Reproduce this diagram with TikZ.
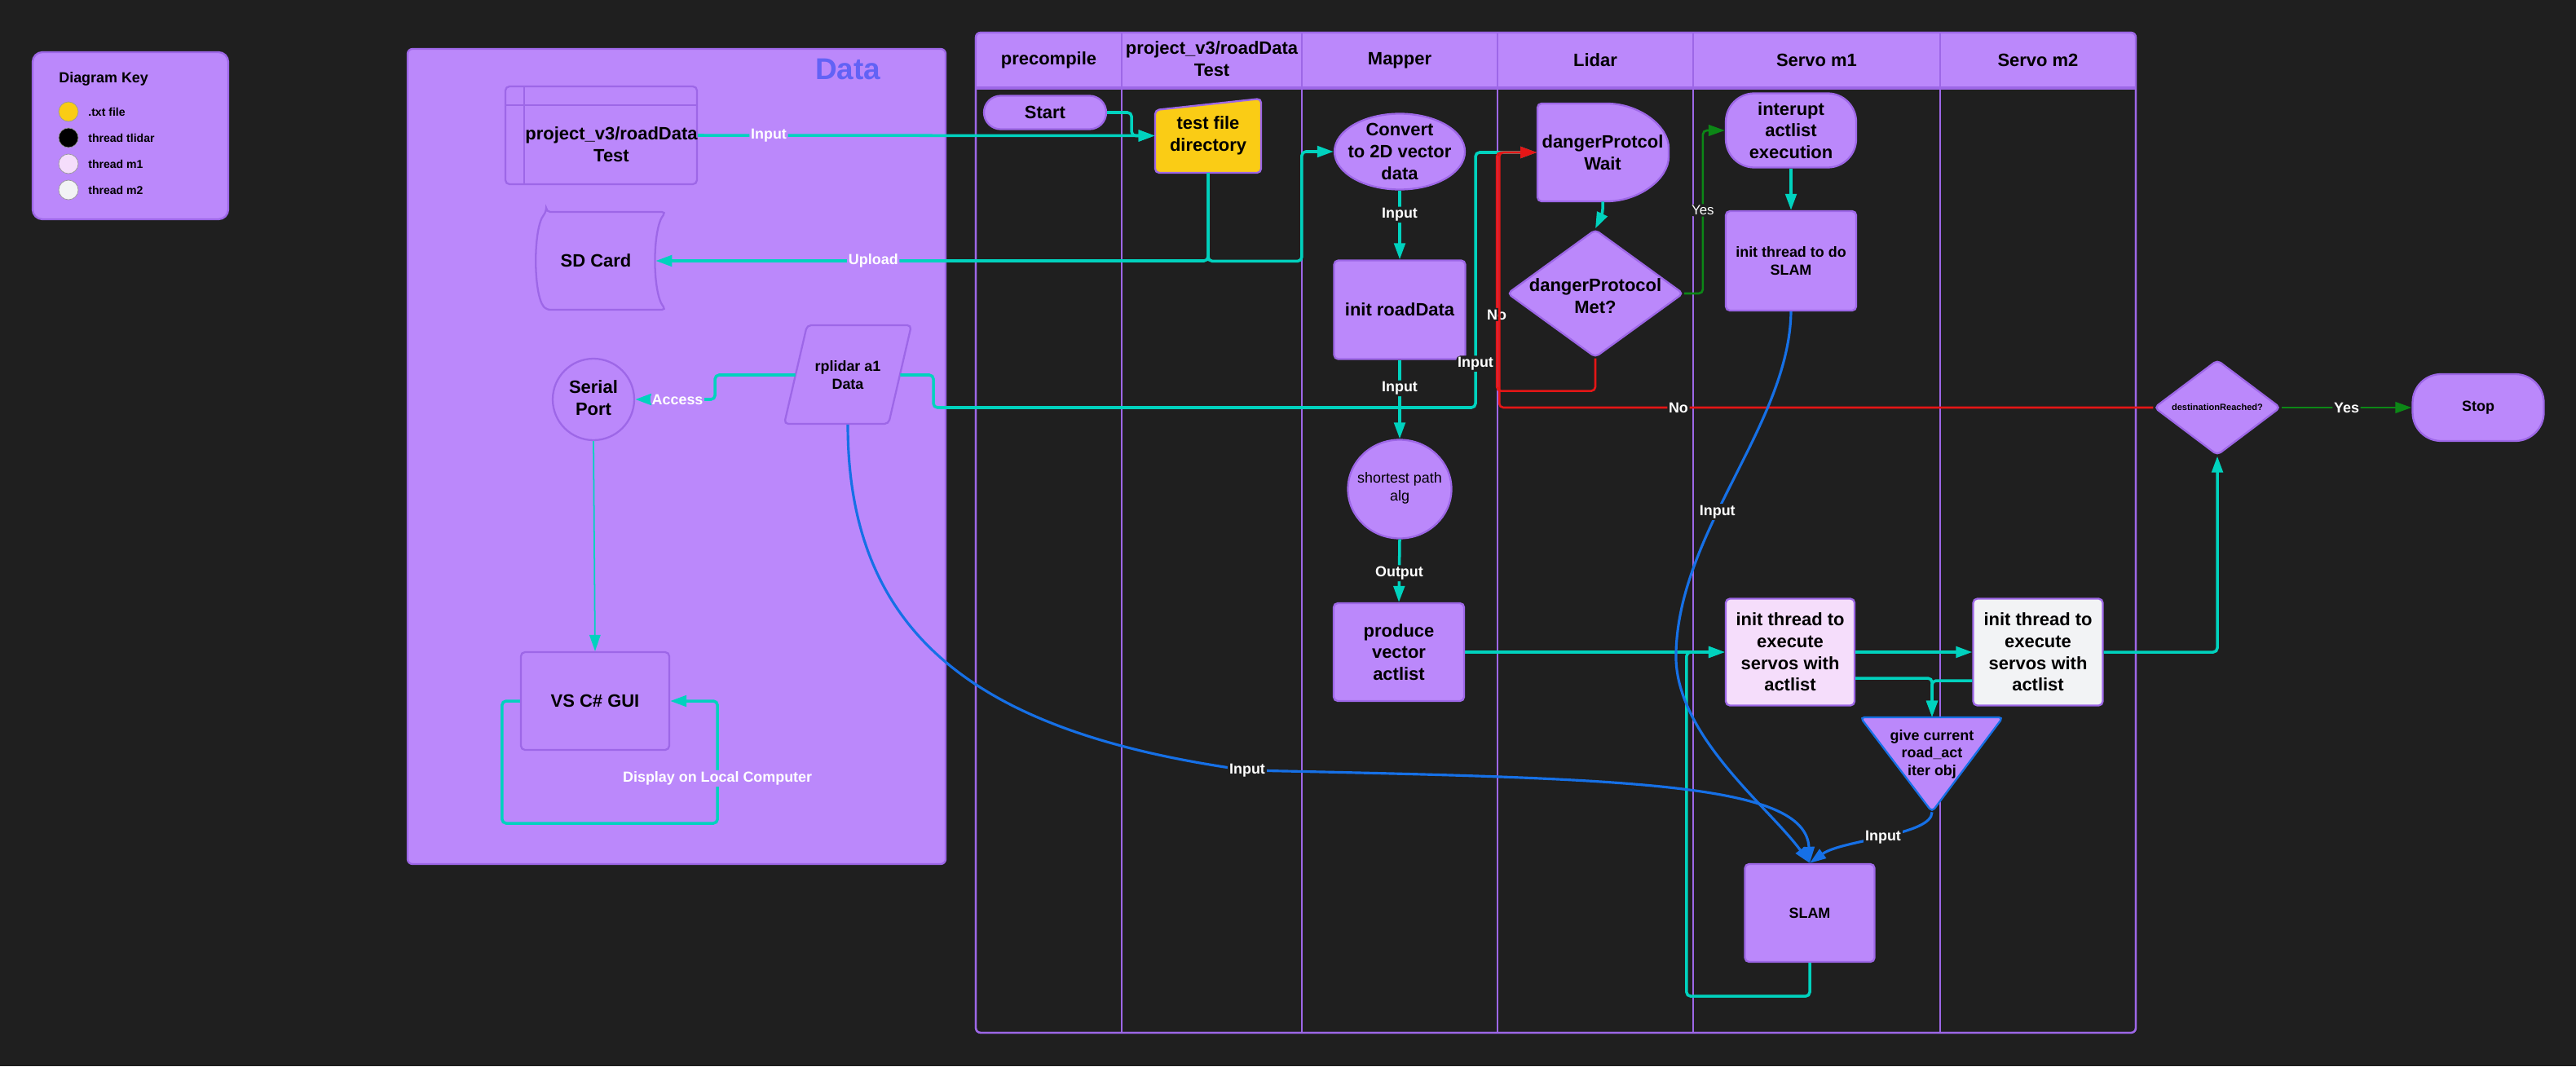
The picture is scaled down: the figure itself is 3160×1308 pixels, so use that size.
\documentclass[tikz,border=0pt]{standalone}
\usepackage{fontspec}
\setmainfont{Liberation Sans}
\usetikzlibrary{positioning, arrows.meta, shapes.geometric, calc}

\definecolor{bgcol}{RGB}{31,31,31}
\definecolor{pfill}{RGB}{187,136,251}
\definecolor{pline}{RGB}{157,103,231}
\definecolor{flowc}{RGB}{0,210,190}
\definecolor{noc}{RGB}{228,22,22}
\definecolor{yesc}{RGB}{12,135,22}
\definecolor{inc}{RGB}{22,112,230}
\definecolor{txtfile}{RGB}{250,204,21}
\definecolor{mone}{RGB}{245,221,251}
\definecolor{mtwo}{RGB}{242,243,245}
\definecolor{datac}{RGB}{98,98,245}

\begin{document}
\begin{tikzpicture}[
    x=0.02cm, y=-0.02cm,
    >={Triangle[length=0.4cm, width=0.27cm]},
    block/.style={rectangle, draw=pline, fill=pfill, line width=1.3pt, rounded corners=0.1cm, inner sep=0pt, align=center, font=\bfseries\fontsize{12.5}{15.2}\selectfont},
    outline/.style={draw=pline, fill=pfill, line width=1.3pt, rounded corners=0.1cm},
    oval/.style={ellipse, draw=pline, fill=pfill, line width=1.3pt, inner sep=0pt},
    decision/.style={diamond, draw=pline, fill=pfill, line width=1.3pt, inner sep=0pt, rounded corners=0.1cm},
    bigtext/.style={inner sep=0pt, align=center, font=\bfseries\fontsize{12.5}{15.2}\selectfont},
    smalltext/.style={inner sep=0pt, align=center, font=\bfseries\fontsize{10.2}{12.2}\selectfont},
    lbl/.style={fill=bgcol, text=white, inner sep=1pt, font=\bfseries\fontsize{10.2}{12}\selectfont},
    flow/.style={draw=flowc, line width=2pt, rounded corners=0.1cm, ->},
    nopath/.style={draw=noc, line width=1.5pt, rounded corners=0.1cm, ->},
    yespath/.style={draw=yesc, line width=1.5pt, rounded corners=0.1cm, ->},
    inpath/.style={draw=inc, line width=1.8pt, ->},
    keydot/.style={circle, draw=black!40, line width=0.4pt, minimum size=0.48cm, inner sep=0pt},
    keylbl/.style={anchor=west, inner sep=0pt, font=\bfseries\fontsize{8}{9.6}\selectfont}
]
\fill[bgcol] (0,0) rectangle (3160,1308);
\useasboundingbox (0,0) rectangle (3160,1308);

% Key
\draw[outline, rounded corners=0.24cm] (40,64) rectangle (280,269);
\node[anchor=west, inner sep=0pt, font=\bfseries\fontsize{10.2}{12}\selectfont] (keyTitle) at (72,97) {Diagram Key};
\node[keydot, fill=txtfile] (keyTxt) at (84,137) {};
\node[keylbl] (keyTxtLbl) at (108,137) {.txt file};
\node[keydot, fill=black] (keyLidar) at (84,169) {};
\node[keylbl] (keyLidarLbl) at (108,169) {thread tlidar};
\node[keydot, fill=mone] (keyMone) at (84,201) {};
\node[keylbl] (keyMoneLbl) at (108,201) {thread m1};
\node[keydot, fill=mtwo] (keyMtwo) at (84,233) {};
\node[keylbl] (keyMtwoLbl) at (108,233) {thread m2};

% Data area
\draw[outline, rounded corners=0.12cm] (500,60) rectangle (1160,1060);
\node[inner sep=0pt, text=datac, font=\bfseries\fontsize{21}{25}\selectfont] (dataTitle) at (1040,85) {Data};
\node[block, minimum width=4.7cm, minimum height=2.4cm] (roadFile) at (737.5,166) {};
\draw[pline, line width=1.3pt] (620,129) -- (855,129) (643,106) -- (643,226);
\node[bigtext] (roadFileText) at (750,177) {project\_v3/roadData\\Test};
\draw[outline] (670,260) -- (817,260) .. controls (800,280) and (800,360) .. (817,380) -- (670,380) .. controls (654,360) and (654,280) .. (670,260) -- cycle;
\node[bigtext, minimum width=2.92cm, minimum height=2.4cm] (sdCard) at (731,320) {SD Card};
\node[oval, minimum width=2cm, minimum height=2cm] (serialPort) at (728,490) {};
\node[bigtext] (serialText) at (728,488) {Serial\\Port};
\draw[outline] (990,399) -- (1118,399) -- (1090,520) -- (962,520) -- cycle;
\node[smalltext, minimum width=2.56cm, minimum height=2.42cm] (rplidar) at (1040,460) {rplidar a1\\Data};
\node[block, minimum width=3.64cm, minimum height=2.4cm] (gui) at (730,860) {VS C\# GUI};

% Lanes
\draw[pline, fill=bgcol, line width=1.3pt, rounded corners=0.12cm] (1197,40) rectangle (2620,1267);
\fill[pfill] (1197,108) {[rounded corners=0.12cm] -- (1197,40) -- (2620,40)} -- (2620,108) -- cycle;
\draw[pline, line width=0.9pt] (1376,40) -- (1376,1267);
\draw[pline, line width=0.9pt] (1597,40) -- (1597,1267);
\draw[pline, line width=0.9pt] (1837,40) -- (1837,1267);
\draw[pline, line width=0.9pt] (2077,40) -- (2077,1267);
\draw[pline, line width=0.9pt] (2380,40) -- (2380,1267);
\draw[pline, line width=1.8pt] (1197,108) -- (2620,108);
\draw[pline, line width=1.3pt, rounded corners=0.12cm] (1197,40) rectangle (2620,1267);
\node[bigtext] (hdrPre) at (1286.5,74) {precompile};
\node[bigtext] (hdrRoad) at (1486.5,72) {project\_v3/roadData\\Test};
\node[bigtext] (hdrMap) at (1717,74) {Mapper};
\node[bigtext] (hdrLidar) at (1957,74) {Lidar};
\node[bigtext] (hdrMone) at (2228.5,74) {Servo m1};
\node[bigtext] (hdrMtwo) at (2500,74) {Servo m2};

% Blocks
\node[block, minimum width=3cm, minimum height=0.82cm, rounded corners=0.41cm] (start) at (1282,138) {Start};
\draw[outline, fill=txtfile] (1417,212) -- (1547,212) -- (1547,121) -- (1417,135) -- cycle;
\node[bigtext, minimum width=2.6cm, minimum height=1.82cm] (testDir) at (1482,166.5) {test file\\directory};
\node[oval, minimum width=3.2cm, minimum height=1.86cm] (convert) at (1717,186) {};
\node[bigtext] (convertText) at (1717,186) {Convert\\to 2D vector\\data};
\node[block, minimum width=3.22cm, minimum height=2.42cm] (initRoad) at (1717,380) {init roadData};
\node[oval, minimum width=2.54cm, minimum height=2.42cm] (shortPath) at (1717,600) {};
\node[inner sep=0pt, align=center, font=\fontsize{10.2}{12.4}\selectfont] (shortText) at (1717,599) {shortest path\\alg};
\node[block, minimum width=3.2cm, minimum height=2.4cm] (produce) at (1716,800) {produce\\vector\\actlist};
\draw[outline] (1886,247) -- (1886,127) -- (1966,127) .. controls (2010,127) and (2047,154) .. (2047,187) .. controls (2047,220) and (2010,247) .. (1966,247) -- cycle;
\node[bigtext, minimum width=3.22cm, minimum height=2.4cm] (dWait) at (1966,187) {dangerProtcol\\Wait};
\node[decision, minimum width=4.32cm, minimum height=3.14cm] (dMet) at (1957,360) {};
\node[bigtext] (dMetText) at (1957,363) {dangerProtocol\\Met?};
\node[block, minimum width=3.2cm, minimum height=1.82cm, rounded corners=0.7cm] (interupt) at (2197,160) {interupt\\actlist\\execution};
\node[block, minimum width=3.2cm, minimum height=2.44cm, font=\bfseries\fontsize{10.2}{12.2}\selectfont] (initSlam) at (2197,320) {init thread to do\\SLAM};
\node[block, fill=mone, minimum width=3.16cm, minimum height=2.62cm] (mOneExec) at (2196,800) {init thread to\\execute\\servos with\\actlist};
\node[block, fill=mtwo, minimum width=3.18cm, minimum height=2.62cm] (mTwoExec) at (2500,800) {init thread to\\execute\\servos with\\actlist};
\draw[outline, draw=inc] (2282,880) -- (2457,880) -- (2370,996) -- cycle;
\node[smalltext, minimum height=1.8cm] (giveIter) at (2370,925) {give current\\road\_act\\iter obj};
\node[block, minimum width=3.18cm, minimum height=2.4cm, font=\bfseries\fontsize{10.2}{12.2}\selectfont] (slam) at (2220,1120) {SLAM};
\node[decision, minimum width=3.1cm, minimum height=2.34cm] (destReached) at (2720,500) {};
\node[inner sep=0pt, font=\bfseries\fontsize{6.3}{7.5}\selectfont] (destText) at (2720,500) {destinationReached?};
\node[block, minimum width=3.22cm, minimum height=1.64cm, rounded corners=0.7cm, font=\bfseries\fontsize{10.2}{12.2}\selectfont] (stop) at (3040,500) {Stop};

% Arrows
\draw[flow] (roadFile.east) -- (testDir.west) node[lbl, fill=pfill, pos=0.155] {Input};
\draw[flow] (start.east) -- ++(30,0) |- (testDir.west);
\draw[flow] (testDir.south) |- (sdCard.east) node[lbl, fill=pfill, pos=0.803] {Upload};
\draw[flow] (testDir.south) -- ++(0,108) -| ($(convert.west)+(-39,0)$) -- (convert.west);
\draw[flow] (convert.south) -- (initRoad.north) node[lbl, pos=0.35] {Input};
\draw[flow] (initRoad.south) -- (shortPath.north) node[lbl, pos=0.36] {Input};
\draw[flow] (shortPath.south) -- (produce.north) node[lbl, pos=0.54] {Output};
\draw[flow] (produce.east) -- (mOneExec.west);
\draw[flow] (slam.south) -- ++(0,41) -| ($(mOneExec.west)+(-47,0)$) -- (mOneExec.west);
\draw[flow] (mOneExec.east) -- (mTwoExec.west);
\draw[flow] (mTwoExec.east) -| (destReached.south);
\draw[flow] ($(mOneExec.east)+(0,32)$) -| (giveIter.north);
\draw[flow] ($(mTwoExec.west)+(0,35)$) -| (giveIter.north);
\draw[flow] (interupt.south) -- (initSlam.north);
\draw[flow] (dWait.south) -- ++(0,14) -- (dMet.north);
\draw[flow] (rplidar.east) -| (1145,500) -| (1810,187) node[lbl, pos=0.586] {Input} -- (dWait.west);
\draw[flow] (rplidar.west) -| ($(serialPort.east)+(98,0)$) -- (serialPort.east) node[lbl, fill=pfill, pos=0.47] {Access};
\draw[flowc, line width=1pt, ->] (serialPort.south) -- (gui.north);
\draw[flow] (gui.west) -| ($(gui.west)+(-22,150)$) -| ($(gui.east)+(58,0)$) node[lbl, fill=pfill, pos=0.683] {Display on Local Computer} -- (gui.east);
\draw[nopath] (dMet.south) -- ++(0,40) -| ($(dWait.west)+(-49,0)$) node[lbl, pos=0.66] {No} -- (dWait.west);
\draw[nopath] (destReached.west) -| ($(dWait.west)+(-46,0)$) node[lbl, pos=0.363] {No} -- (dWait.west);
\draw[yespath] (dMet.east) -| ($(interupt.west)+(-27,0)$) node[lbl, pos=0.755, font=\fontsize{9.6}{11}\selectfont] {Yes} -- (interupt.west);
\draw[yespath] (destReached.east) -- (stop.west) node[lbl, pos=0.5] {Yes};
\draw[inpath] (initSlam.south) .. controls (2195,520) and (2060,650) .. (2056,800) node[lbl, pos=0.6] {Input} .. controls (2052,900) and (2170,990) .. (slam.north);
\draw[inpath] (rplidar.south) .. controls (1040,780) and (1200,900) .. (1530,945) node[lbl] {Input} .. controls (2000,955) and (2215,960) .. (slam.north);
\draw[inpath] ($(giveIter.south)+(0,26)$) .. controls (2370,1025) and (2260,1030) .. (slam.north) node[lbl, pos=0.5] {Input};
\end{tikzpicture}
\end{document}
